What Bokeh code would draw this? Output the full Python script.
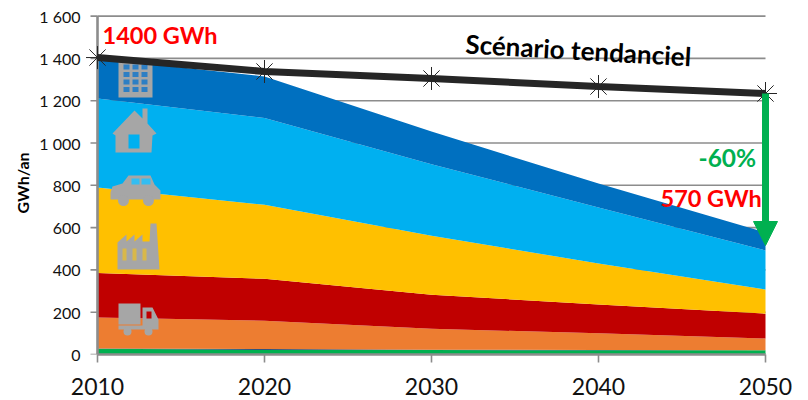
from bokeh.plotting import figure
from bokeh.embed import file_html
from bokeh.resources import INLINE
from bokeh.models import Label, Arrow, NormalHead, Range1d, FixedTicker, Title
import math

years = [2010, 2020, 2030, 2040, 2050]
transport_fret_rail = [27, 22, 21, 20, 20]
navy_band = [1, 4, 2, 1, 0]
orange_band = [147, 134, 99, 79, 56]
red_band = [210, 198, 161, 136, 117]
yellow_band = [405, 350, 279, 194, 114]
light_blue_band = [420, 410, 338, 265, 185]
blue_band = [190, 197, 154, 113, 85]
trend = [1404, 1338, 1305, 1267, 1234]
y_ticks = [0, 200, 400, 600, 800, 1000, 1200, 1400, 1600]
y_tick_labels = ["0", "200", "400", "600", "800", "1 000", "1 200", "1 400", "1 600"]

FONT = "Lato"
GRID = "#8c8c8c"
ICON = "#a6a6a6"

# page px <-> data
PX_YEAR = 16.7
PX_UNIT = 0.2115
def dx(px): return 2010 + (px - 97) / PX_YEAR
def dy(py): return (354 - py) / PX_UNIT

p = figure(width=808, height=400, output_backend="svg", toolbar_location=None,
           x_range=Range1d(dx(84), dx(782)), y_range=Range1d(0, dy(11)),
           min_border_left=84, min_border_right=26, min_border_top=11, min_border_bottom=46)
p.outline_line_color = None
p.grid.visible = False
p.background_fill_color = "white"

# horizontal gridlines
p.segment(x0=[years[0]] * len(y_ticks), x1=[years[-1]] * len(y_ticks), y0=y_ticks, y1=y_ticks,
          line_color=GRID, line_width=1.6)

# stacked bands
bands = [transport_fret_rail, navy_band, orange_band, red_band, yellow_band, light_blue_band, blue_band]
colors = ["#00B050", "#002060", "#ED7D31", "#C00000", "#FFC000", "#00B0F0", "#0070C0"]
base = [0] * len(years)
for vals, col in zip(bands, colors):
    top = [b + v for b, v in zip(base, vals)]
    p.varea(x=years, y1=base, y2=top, fill_color=col)
    base = top

# y axis line and outward ticks
p.segment(x0=[years[0]], x1=[years[0]], y0=[0], y1=[1600], line_color=GRID, line_width=2.6)
p.segment(x0=[dx(90)] * len(y_ticks), x1=[years[0]] * len(y_ticks), y0=y_ticks, y1=y_ticks,
          line_color=GRID, line_width=1.6)

# axes
p.xaxis.ticker = FixedTicker(ticks=years)
p.xaxis.bounds = (years[0], years[-1])
p.xaxis.axis_line_color = GRID
p.xaxis.axis_line_width = 2.6
p.xaxis.major_tick_line_color = GRID
p.xaxis.major_tick_line_width = 1.6
p.xaxis.major_tick_in = 0
p.xaxis.major_tick_out = 8
p.xaxis.minor_tick_line_color = None
p.xaxis.major_label_standoff = 15
p.xaxis.major_label_text_font = FONT
p.xaxis.major_label_text_font_size = "23px"
p.xaxis.major_label_text_color = "#111111"

p.yaxis.ticker = FixedTicker(ticks=y_ticks)
p.yaxis.major_label_overrides = dict(zip(y_ticks, y_tick_labels))
p.yaxis.axis_line_color = None
p.yaxis.major_tick_line_color = None
p.yaxis.minor_tick_line_color = None
p.yaxis.major_tick_in = 0
p.yaxis.major_tick_out = 0
p.yaxis.major_label_standoff = 4
p.yaxis.major_label_text_font = FONT
p.yaxis.major_label_text_font_size = "16px"
p.yaxis.major_label_text_color = "#111111"

p.add_layout(Title(text="GWh/an", align="center", offset=-11, standoff=9, text_font=FONT,
                   text_font_size="16px", text_font_style="bold", text_color="#000000"), "left")

# icons (decorative pictograms)
def box(x0, y0, x1, y1, color=ICON):
    p.quad(left=[dx(x0)], right=[dx(x1)], top=[dy(y0)], bottom=[dy(y1)], fill_color=color, line_color=None)
def poly(pts, color=ICON):
    p.patch([dx(a) for a, b in pts], [dy(b) for a, b in pts], fill_color=color, line_color=None)

# building
box(118, 58, 152, 97)
for i in range(3):
    for j in range(4):
        box(123 + i * 9, 64 + j * 7.5, 129 + i * 9, 69 + j * 7.5, "#2e7fc4")
# house
poly([(112, 133), (134, 110), (142, 118), (142, 108), (147, 108), (147, 123), (156, 133), (152, 135),
      (151, 152), (115, 152), (115, 135)])
box(128, 134, 139, 148, "#00B0F0")
# car
poly([(110, 192), (112, 186), (122, 183), (128, 175), (150, 175), (154, 184), (160, 190), (160, 199), (110, 199)])
box(131, 178, 139, 184, "#33bdf2")
box(141, 178, 150, 184, "#33bdf2")
p.circle(x=[dx(123), dx(148)], y=[dy(200), dy(200)], radius=5.5 / PX_YEAR, fill_color=ICON, line_color=None)
# factory
poly([(117, 269), (117, 242), (126, 234), (126, 241), (134, 234), (134, 241), (142, 234), (142, 241),
      (149, 241), (150, 223), (156, 223), (159, 269)])
for i in range(3):
    box(122 + i * 10, 248, 126 + i * 10, 260, "#d9b84a")
# truck
box(118, 303, 140, 324)
poly([(142, 307), (152, 307), (158, 319), (158, 329), (118, 329), (118, 325), (142, 325)])
box(146, 311, 151, 318, "#C00000")
p.circle(x=[dx(127), dx(148)], y=[dy(331), dy(331)], radius=4 / PX_YEAR, fill_color=ICON, line_color=None)

# trend line
p.line(years, trend, line_color="#262626", line_width=7)
p.scatter(years, trend, marker="asterisk", size=23, line_color="#262626", fill_color=None, line_width=1)

# arrow
p.add_layout(Arrow(end=NormalHead(size=24, fill_color="#00B050", line_color="#00B050"),
                   x_start=2050, y_start=trend[-1], x_end=2050, y_end=dy(245),
                   line_color="#00B050", line_width=7))

# annotations
def lab(text, x, y, size, color, angle=0, align="left"):
    p.add_layout(Label(x=dx(x), y=dy(y), text=text, text_font=FONT, text_font_style="bold",
                       text_font_size=size, text_color=color, angle=angle, angle_units="rad",
                       text_align=align, text_baseline="middle"))

lab("1400 GWh", 102, 34, "23.5px", "#FF0000")
lab("Scénario tendanciel", 465, 43, "26px", "#000000", angle=-math.atan(13 / 228))
lab("-60%", 698, 157, "24.5px", "#00B050")
lab("570 GWh", 660, 197, "23.5px", "#FF0000")

open("out.html", "w").write(file_html(p, INLINE))
